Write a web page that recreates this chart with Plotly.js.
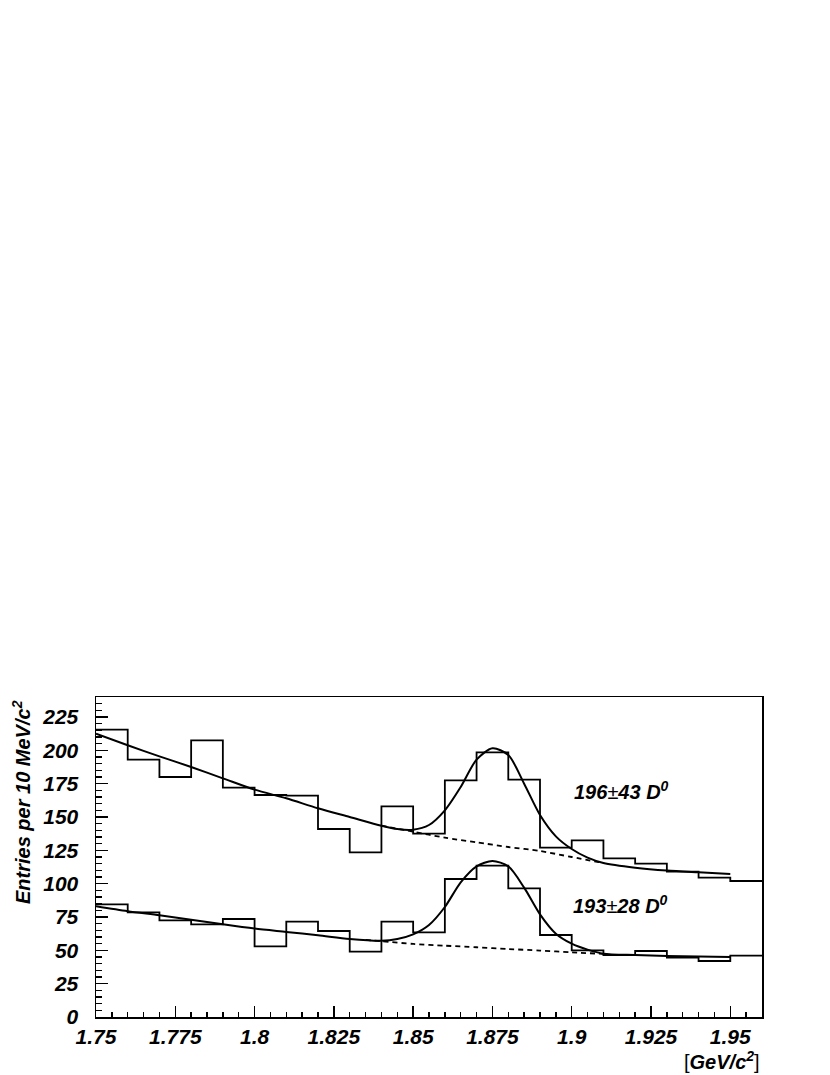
<!DOCTYPE html>
<html>
<head>
<meta charset="utf-8">
<script src="https://cdn.plot.ly/plotly-3.0.1.min.js"></script>
<style>
  html, body { margin: 0; padding: 0; background: #fff; }
  #chart { width: 830px; height: 1075px; }
</style>
</head>
<body>
<div id="chart"></div>
<script>
// ---- bin edges (10 MeV/c^2 bins) ----
const binEdges = [1.75, 1.76, 1.77, 1.78, 1.79, 1.80, 1.81, 1.82, 1.83, 1.84, 1.85,
                  1.86, 1.87, 1.88, 1.89, 1.90, 1.91, 1.92, 1.93, 1.94, 1.95, 1.96];

// ---- histogram contents ----
const upperCounts = [215.5, 193, 180, 207.5, 172, 166.5, 166, 141, 123.5, 158,
                     137.5, 177.5, 198.5, 178, 127, 132.5, 119, 115, 109, 104.5, 102];
const lowerCounts = [84.5, 78.5, 72.5, 69.5, 73.5, 53, 71.5, 64.5, 49, 71.5,
                     63.5, 103.5, 113.5, 96.5, 61.5, 50, 46.5, 49.5, 44.5, 42, 46];

// ---- fit curves (signal + background) ----
const upperFitX = [1.75, 1.76, 1.77, 1.78, 1.79, 1.80, 1.81, 1.82, 1.83, 1.84, 1.845,
                   1.85, 1.855, 1.86, 1.865, 1.87, 1.875, 1.88, 1.885, 1.89, 1.895,
                   1.90, 1.905, 1.91, 1.92, 1.93, 1.94, 1.95];
const upperFitY = [212.5, 203.8, 195.5, 187.5, 179, 170.5, 164, 156.5, 150, 143.5, 141,
                   140.5, 144, 155, 172.5, 193, 201.5, 196.5, 175, 151.5, 135.5,
                   126, 119.5, 115.5, 112, 109.8, 108.5, 107.3];
const upperBkgX = [1.84, 1.85, 1.86, 1.87, 1.88, 1.89, 1.90, 1.91];
const upperBkgY = [143.5, 139, 134.5, 131, 127.5, 124.5, 120, 115.5];

const lowerFitX = [1.75, 1.76, 1.77, 1.78, 1.79, 1.80, 1.81, 1.82, 1.83, 1.84, 1.845,
                   1.85, 1.855, 1.86, 1.865, 1.87, 1.875, 1.88, 1.885, 1.89, 1.895,
                   1.90, 1.905, 1.91, 1.92, 1.93, 1.94, 1.95];
const lowerFitY = [83, 79.3, 76.3, 73, 69.5, 66.3, 63.8, 61.3, 58.5, 57.2, 58.5,
                   62, 69, 82.5, 101, 113, 117, 113, 97, 77, 62.5,
                   55, 50.5, 47.5, 46.5, 45.8, 45.3, 45];
const lowerBkgX = [1.835, 1.84, 1.85, 1.86, 1.87, 1.88, 1.89, 1.90, 1.91];
const lowerBkgY = [57.8, 56.8, 54.8, 53.5, 52.3, 51, 49.8, 48.5, 47.3];

const FONT = "'Liberation Sans', Arial, Helvetica, sans-serif";

// histogram drawn as a step outline
function stepTrace(counts) {
  return {
    x: binEdges,
    y: counts.concat([counts[counts.length - 1]]),
    mode: "lines",
    line: { shape: "hv", color: "#000", width: 1.8 },
    hoverinfo: "skip"
  };
}

function curveTrace(x, y, dash) {
  return {
    x: x,
    y: y,
    mode: "lines",
    line: { shape: "spline", smoothing: 0.8, color: "#000", width: dash ? 1.8 : 2, dash: dash || "solid" },
    hoverinfo: "skip"
  };
}

const traces = [
  stepTrace(upperCounts),
  stepTrace(lowerCounts),
  curveTrace(upperBkgX, upperBkgY, "5px,4px"),
  curveTrace(lowerBkgX, lowerBkgY, "5px,4px"),
  curveTrace(upperFitX, upperFitY),
  curveTrace(lowerFitX, lowerFitY)
];

const tickFont = { family: FONT, size: 21, color: "#000", weight: "bold", style: "italic" };

const layout = {
  width: 830,
  height: 1075,
  margin: { l: 96, r: 68, t: 697, b: 58 },
  paper_bgcolor: "#fff",
  plot_bgcolor: "#fff",
  showlegend: false,
  xaxis: {
    range: [1.75, 1.96],
    tickvals: [1.75, 1.775, 1.8, 1.825, 1.85, 1.875, 1.9, 1.925, 1.95],
    ticktext: ["1.75", "1.775", "1.8", "1.825", "1.85", "1.875", "1.9", "1.925", "1.95"],
    ticks: "inside",
    ticklen: 11,
    tickwidth: 1.3,
    tickcolor: "#000",
    minor: { dtick: 0.005, ticks: "inside", ticklen: 5, tickwidth: 1.3, tickcolor: "#000", showgrid: false },
    showline: true,
    linecolor: "#000",
    linewidth: 1.5,
    mirror: true,
    showgrid: false,
    zeroline: false,
    tickfont: tickFont,
    ticklabelstandoff: 0
  },
  yaxis: {
    range: [0, 240],
    tick0: 0,
    dtick: 25,
    ticks: "inside",
    ticklen: 12,
    tickwidth: 1.3,
    tickcolor: "#000",
    minor: { dtick: 5, ticks: "inside", ticklen: 6, tickwidth: 1.3, tickcolor: "#000", showgrid: false },
    showline: true,
    linecolor: "#000",
    linewidth: 1.5,
    mirror: true,
    showgrid: false,
    zeroline: false,
    tickfont: tickFont,
    ticklabelstandoff: 12
  },
  annotations: [
    {
      xref: "x", yref: "y", x: 1.9156, y: 170,
      xanchor: "center", yanchor: "middle",
      text: "<b><i>196</i></b>±<b><i>43 D<sup>0</sup></i></b>",
      showarrow: false,
      font: { family: FONT, size: 20, color: "#000" }
    },
    {
      xref: "x", yref: "y", x: 1.9153, y: 84.5,
      xanchor: "center", yanchor: "middle",
      text: "<b><i>193</i></b>±<b><i>28 D<sup>0</sup></i></b>",
      showarrow: false,
      font: { family: FONT, size: 20, color: "#000" }
    },
    {
      xref: "paper", yref: "paper", x: (21 - 96) / 666, y: (1017 - 802) / 320,
      xanchor: "center", yanchor: "middle",
      text: "<b><i>Entries per 10 MeV/c<sup>2</sup></i></b>",
      textangle: -90,
      showarrow: false,
      font: { family: FONT, size: 20, color: "#000" }
    },
    {
      xref: "paper", yref: "paper", x: 1, y: (1017 - 1060) / 320,
      xanchor: "right", yanchor: "middle",
      text: "[<b><i>GeV/c<sup>2</sup></i></b>]",
      showarrow: false,
      font: { family: FONT, size: 20, color: "#000" }
    }
  ]
};

Plotly.newPlot("chart", traces, layout, { staticPlot: true, displayModeBar: false });
</script>
</body>
</html>
